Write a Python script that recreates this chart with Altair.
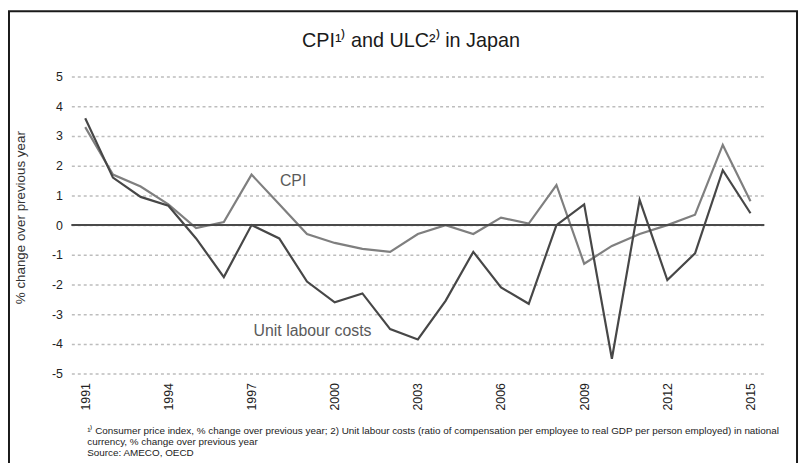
import altair as alt
import pandas as pd

years = list(range(1991, 2016))
cpi = [3.3, 1.7, 1.3, 0.7, -0.1, 0.1, 1.7, 0.7, -0.3, -0.6, -0.8, -0.9, -0.3, 0.0,
       -0.3, 0.25, 0.05, 1.35, -1.3, -0.7, -0.3, 0.0, 0.35, 2.7, 0.8]
ulc = [3.6, 1.6, 0.95, 0.65, -0.45, -1.75, 0.0, -0.45, -1.9, -2.6, -2.3, -3.5, -3.85,
       -2.55, -0.9, -2.1, -2.65, 0.0, 0.7, -4.5, 0.85, -1.85, -0.95, 1.85, 0.4]
series_names = ["CPI", "Unit labour costs"]
series_colors = ["#7f7f7f", "#474747"]
x_ticks = [1991, 1994, 1997, 2000, 2003, 2006, 2009, 2012, 2015]
y_ticks = [-5, -4, -3, -2, -1, 0, 1, 2, 3, 4, 5]
label_text = ["CPI", "Unit labour costs"]
label_year = [1998.5, 1999.2]
label_value = [1.47, -3.57]
title_text = "CPI\u00b9\u207e and ULC\u00b2\u207e in Japan"
footnote = ("\u00b9\u207e Consumer price index, % change over previous year; 2) Unit labour costs "
            "(ratio of compensation per employee to real GDP per person employed) in national\n"
            "currency, % change over previous year\n"
            "Source: AMECO, OECD")

FONT = "Liberation Sans"

df = pd.DataFrame({
    "year": years * 2,
    "value": cpi + ulc,
    "series": [series_names[0]] * len(years) + [series_names[1]] * len(years),
})
labels_df = pd.DataFrame({"year": label_year, "value": label_value, "text": label_text})
one = pd.DataFrame({"a": [0]})

x_scale = alt.Scale(domain=[1990.5, 2015.5], nice=False, zero=False)
y_scale = alt.Scale(domain=[-5, 5], nice=False)

x_axis = alt.Axis(values=x_ticks, format="d", labelAngle=-90, ticks=False,
                  domain=False, grid=False, labelPadding=9, labelFontSize=12.5,
                  labelColor="#222", labelFont=FONT, title=None, labelOverlap=False,
                  tickCount=30)
y_axis = alt.Axis(values=y_ticks, tickCount=20, ticks=False, domain=False, grid=True,
                  gridDash=[3, 3], gridColor="#bdbdbd", gridWidth=1.5,
                  labelPadding=9, labelFontSize=12.5, labelColor="#222",
                  labelFont=FONT, labelOverlap=False, labelExpr="datum.value",
                  title="% change over previous year", titleFont=FONT,
                  titleFontSize=13.5, titleFontWeight="normal", titleColor="#333",
                  titleX=-51, titleY=142, titleAngle=-90,
                  titleAlign="center", titleBaseline="middle")

x_enc = alt.X("year:Q", scale=x_scale, axis=x_axis)
y_enc = alt.Y("value:Q", scale=y_scale, axis=y_axis)

lines = alt.Chart(df).mark_line(strokeWidth=2.2).encode(
    x=x_enc, y=y_enc,
    color=alt.Color("series:N", scale=alt.Scale(domain=series_names, range=series_colors),
                    legend=None),
)

zero = alt.Chart(one).mark_rule(color="#4a4a4a", strokeWidth=2).encode(
    y=alt.datum(0, scale=y_scale), x=alt.value(0), x2=alt.value(700))

texts = alt.Chart(labels_df).mark_text(fontSize=16, font=FONT, color="#5a5a5a",
                                       align="center", baseline="middle").encode(
    x=x_enc, y=y_enc, text="text:N")

title = alt.Chart(one).mark_text(fontSize=20, font=FONT, color="#1a1a1a", align="center",
                                 baseline="alphabetic").encode(
    x=alt.value(343), y=alt.value(-30), text=alt.value(title_text))

note = alt.Chart(one).mark_text(fontSize=10, font=FONT, color="#222", align="left",
                                baseline="middle", lineBreak="\n", lineHeight=11).encode(
    x=alt.value(16), y=alt.value(358), text=alt.value(footnote))

frame = alt.Chart(one).mark_rect(fillOpacity=0, stroke="#1a1a1a", strokeWidth=2).encode(
    x=alt.value(-63), x2=alt.value(733), y=alt.value(-66), y2=alt.value(420))

chart = alt.layer(lines, texts, zero, title, note, frame).properties(
    width=700, height=300,
    padding={"left": 64, "top": 67, "right": 35, "bottom": 88},
    autosize=alt.AutoSizeParams(type="none"),
).configure_view(stroke=None)

chart.save("out.html", embed_options={"renderer": "svg", "actions": False})
